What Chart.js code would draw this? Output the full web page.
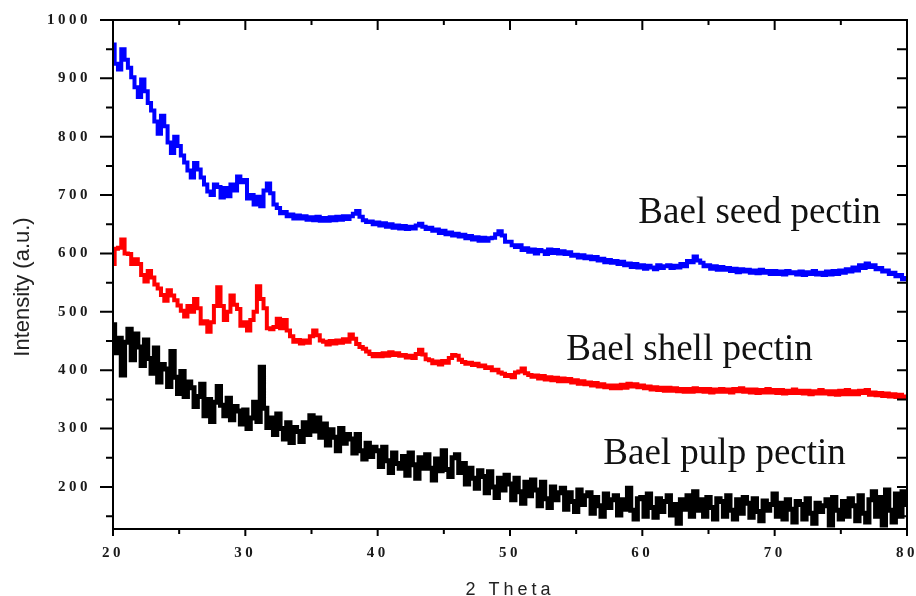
<!DOCTYPE html>
<html>
<head>
<meta charset="utf-8">
<script src="https://cdn.jsdelivr.net/npm/chart.js@4.4.1/dist/chart.umd.min.js"></script>
<style>
	html, body { margin: 0; padding: 0; background: #fff; }
	canvas { display: block; }
</style>
</head>
<body>
<canvas id="xrd-chart" width="916" height="596"></canvas>
<script>
// 2 theta sampling: 20 to 80 deg, 0.25 deg per reading
const thetaStart = 20;
const thetaStep = 0.25;

const seedPectin = [
	958, 925, 915, 950, 932, 918, 902, 885,
	868, 898, 878, 858, 845, 826, 805, 836,
	818, 790, 772, 800, 784, 768, 756, 742,
	730, 755, 744, 730, 718, 706, 700, 718,
	714, 696, 712, 698, 718, 708, 732, 722,
	726, 694, 700, 684, 697, 681, 708, 720,
	703, 684, 678, 669, 671, 664, 667, 660,
	665, 660, 664, 658, 662, 657, 663, 656,
	661, 656, 662, 657, 663, 658, 664, 659,
	664, 668, 673, 663, 657, 654, 655, 650,
	653, 648, 652, 646, 650, 644, 648, 643,
	647, 642, 646, 643, 648, 651, 646, 642,
	644, 639, 641, 635, 639, 633, 636, 631,
	634, 629, 632, 626, 630, 624, 628, 622,
	627, 622, 626, 627, 633, 638, 631, 620,
	620, 614, 611, 614, 606, 609, 603, 607,
	600, 606, 604, 599, 607, 601, 606, 600,
	604, 599, 602, 596, 598, 593, 597, 592,
	595, 590, 594, 588, 591, 585, 589, 584,
	587, 582, 586, 580, 583, 577, 582, 576,
	580, 574, 579, 576, 573, 580, 575, 578,
	580, 575, 579, 576, 582, 578, 587, 585,
	595, 588, 584, 578, 580, 574, 578, 572,
	577, 572, 575, 570, 574, 568, 573, 569,
	572, 567, 571, 566, 572, 567, 570, 565,
	570, 565, 569, 564, 570, 566, 568, 564,
	569, 563, 568, 565, 570, 564, 567, 563,
	569, 564, 570, 565, 571, 567, 573, 569,
	576, 571, 580, 575, 583, 577, 580, 573,
	575, 569, 571, 565, 567, 561, 563, 556,
	558
];

const shellPectin = [
	582, 608, 610, 624, 600, 599, 582, 590,
	582, 563, 552, 570, 559, 547, 540, 529,
	519, 537, 528, 520, 511, 502, 492, 510,
	500, 522, 506, 480, 484, 466, 482, 510,
	542, 510, 486, 500, 528, 512, 505, 476,
	482, 468, 486, 500, 544, 522, 506, 472,
	470, 474, 488, 472, 486, 468, 458, 449,
	452, 446, 451, 447, 458, 468, 460, 451,
	449, 444, 450, 446, 451, 447, 453, 449,
	461, 454, 445, 440, 437, 432, 428, 424,
	428, 424, 429, 425, 431, 426, 429, 425,
	426, 422, 425, 421, 428, 435, 427, 419,
	417, 412, 415, 410, 416, 413, 421, 426,
	425, 418, 414, 411, 413, 409, 411, 407,
	408, 404, 405, 400, 401, 396, 394, 390,
	392, 388, 396, 398, 403, 395, 392, 389,
	391, 386, 390, 384, 388, 383, 387, 381,
	386, 381, 385, 379, 383, 377, 381, 376,
	379, 374, 378, 372, 376, 371, 374, 369,
	374, 369, 375, 370, 377, 372, 376, 371,
	374, 369, 372, 367, 371, 366, 370, 365,
	370, 365, 369, 364, 368, 363, 368, 363,
	369, 364, 368, 363, 368, 362, 367, 363,
	368, 363, 367, 362, 368, 364, 369, 363,
	367, 362, 367, 361, 366, 362, 368, 362,
	366, 361, 366, 360, 365, 361, 367, 361,
	365, 360, 365, 359, 364, 360, 366, 360,
	364, 359, 364, 358, 365, 359, 366, 359,
	364, 359, 365, 361, 366, 358, 362, 357,
	361, 356, 360, 355, 359, 354, 358, 353,
	355
];

const pulpPectin = [
	478, 430, 455, 392, 448, 470, 418, 462,
	440, 408, 452, 420, 395, 438, 380, 410,
	402, 372, 432, 388, 360, 398, 355, 380,
	370, 338, 355, 376, 322, 350, 312, 345,
	372, 340, 322, 352, 315, 338, 330, 308,
	332, 300, 318, 345, 312, 405, 335, 302,
	318, 290, 325, 300, 282, 310, 276, 302,
	295, 278, 310, 290, 322, 296, 318, 285,
	308, 272, 298, 285, 262, 300, 275, 290,
	282, 258, 290, 262, 248, 275, 252, 268,
	262, 235, 268, 245, 225, 258, 240, 232,
	252, 220, 258, 238, 215, 250, 232, 255,
	232, 212, 248, 228, 262, 230, 218, 250,
	255, 225, 240, 205, 232, 215, 198, 228,
	218, 190, 226, 200, 182, 215, 195, 220,
	205, 178, 215, 192, 172, 208, 185, 212,
	195, 168, 208, 180, 165, 200, 178, 190,
	198, 162, 190, 175, 158, 195, 170, 185,
	190, 155, 182, 168, 150, 188, 165, 178,
	185, 152, 178, 162, 198, 160, 145, 180,
	182, 150, 188, 165, 148, 180, 158, 175,
	185, 152, 170, 138, 178, 162, 185, 150,
	192, 160, 178, 150, 182, 165, 145, 180,
	175, 150, 185, 160, 145, 178, 155, 182,
	172, 148, 180, 158, 142, 176, 160, 170,
	188, 150, 172, 145, 178, 162, 140, 175,
	170, 145, 180, 155, 138, 172, 158, 168,
	178, 135, 182, 160, 145, 175, 150, 180,
	168, 142, 185, 155, 140, 178, 192, 150,
	182, 135, 195, 160, 140, 188, 150, 192,
	170
];

// curve labels, placed in data units (left edge, baseline)
const curveLabels = [
	{ text: 'Bael seed pectin', x: 59.7, y: 652 },
	{ text: 'Bael shell pectin', x: 54.25, y: 418 },
	{ text: 'Bael pulp pectin', x: 57.05, y: 240 }
];

const xMajorTicks = [20, 30, 40, 50, 60, 70, 80];
const xMinorTicks = [25, 35, 45, 55, 65, 75];
const yMajorTicks = [200, 300, 400, 500, 600, 700, 800, 900, 1000];
const yMinorTicks = [150, 250, 350, 450, 550, 650, 750, 850, 950];

function toPoints(values) {
	return values.map((v, i) => ({ x: thetaStart + i * thetaStep, y: v }));
}

const framePlugin = {
	id: 'frame',
	beforeDraw(chart) {
		chart.ctx.letterSpacing = '3.5px';
	},
	beforeDatasetsDraw(chart) {
		chart.ctx.letterSpacing = '0px';
	},
	afterDraw(chart) {
		const ctx = chart.ctx;
		const { left, right, top, bottom } = chart.chartArea;
		const xs = chart.scales.x;
		const ys = chart.scales.y;

		ctx.save();
		ctx.strokeStyle = '#000';
		ctx.lineWidth = 2;
		ctx.strokeRect(left, top, right - left, bottom - top);

		ctx.beginPath();
		for (const v of xMajorTicks) {
			const p = xs.getPixelForValue(v);
			ctx.moveTo(p, bottom); ctx.lineTo(p, bottom + 7);
			ctx.moveTo(p, top); ctx.lineTo(p, top + 10);
		}
		for (const v of xMinorTicks) {
			const p = xs.getPixelForValue(v);
			ctx.moveTo(p, bottom); ctx.lineTo(p, bottom + 5);
			ctx.moveTo(p, top); ctx.lineTo(p, top + 5);
		}
		for (const v of yMajorTicks) {
			const p = ys.getPixelForValue(v);
			ctx.moveTo(left, p); ctx.lineTo(left - 13, p);
			ctx.moveTo(right, p); ctx.lineTo(right - 10, p);
		}
		for (const v of yMinorTicks) {
			const p = ys.getPixelForValue(v);
			ctx.moveTo(left, p); ctx.lineTo(left - 7, p);
			ctx.moveTo(right, p); ctx.lineTo(right - 10, p);
		}
		ctx.stroke();

		ctx.fillStyle = '#111';
		ctx.textBaseline = 'alphabetic';
		ctx.textAlign = 'left';
		ctx.letterSpacing = '0px';
		ctx.font = '37px "Liberation Serif"';
		for (const lbl of curveLabels) {
			ctx.fillText(lbl.text, xs.getPixelForValue(lbl.x), ys.getPixelForValue(lbl.y));
		}

		ctx.fillStyle = '#222';
		ctx.font = '18px "Liberation Sans"';
		ctx.letterSpacing = '4px';
		ctx.textAlign = 'center';
		ctx.fillText('2 Theta', (left + right) / 2, 595);

		ctx.letterSpacing = '0px';
		ctx.font = '22px "Liberation Sans"';
		ctx.translate(29, 287);
		ctx.rotate(-Math.PI / 2);
		ctx.fillText('Intensity (a.u.)', 0, 0);
		ctx.restore();
	}
};

const tickFont = { family: '"Liberation Serif"', size: 15, weight: 'bold' };

new Chart(document.getElementById('xrd-chart'), {
	type: 'line',
	data: {
		datasets: [{
			label: 'Bael seed pectin',
			data: toPoints(seedPectin),
			borderColor: '#0000ff',
			borderWidth: 4,
			stepped: 'middle',
			pointRadius: 0
		}, {
			label: 'Bael shell pectin',
			data: toPoints(shellPectin),
			borderColor: '#ff0000',
			borderWidth: 4,
			stepped: 'middle',
			pointRadius: 0
		}, {
			label: 'Bael pulp pectin',
			data: toPoints(pulpPectin),
			borderColor: '#000000',
			borderWidth: 5,
			stepped: 'middle',
			pointRadius: 0
		}]
	},
	options: {
		responsive: false,
		animation: false,
		layout: {
			padding: { top: 20, right: 9, left: 0, bottom: 0 }
		},
		plugins: {
			legend: { display: false },
			tooltip: { enabled: false }
		},
		scales: {
			x: {
				type: 'linear',
				min: 20,
				max: 80,
				afterFit: s => { s.height = 67; s.paddingLeft = 0; s.paddingRight = 0; },
				grid: { display: false, drawTicks: false },
				border: { display: false },
				ticks: {
					stepSize: 10,
					padding: 15,
					maxRotation: 0,
					autoSkip: false,
					color: '#1a1a1a',
					font: tickFont,
					callback: v => String(v)
				}
			},
			y: {
				min: 128,
				max: 1000,
				afterFit: s => { s.width = 113; s.paddingTop = 0; s.paddingBottom = 0; },
				grid: { display: false, drawTicks: false },
				border: { display: false },
				ticks: {
					stepSize: 100,
					includeBounds: false,
					padding: 22,
					color: '#1a1a1a',
					font: tickFont,
					callback: v => String(v)
				}
			}
		}
	},
	plugins: [framePlugin]
});
</script>
</body>
</html>
